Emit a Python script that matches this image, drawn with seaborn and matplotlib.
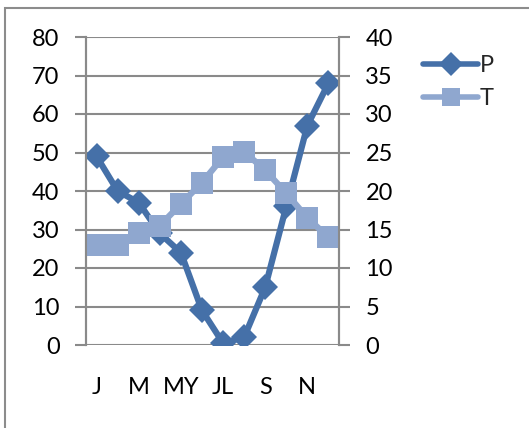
import matplotlib
matplotlib.use("Agg")
import matplotlib.pyplot as plt
import seaborn as sns
import pandas as pd
from matplotlib.patches import Rectangle
from matplotlib.lines import Line2D

sns.set_theme(style="white")
plt.rcParams["font.family"] = ["Lato", "DejaVu Sans"]

months = ["J", "F", "M", "A", "MY", "JN", "JL", "AG", "S", "O", "N", "D"]
tick_labels = ["J", "", "M", "", "MY", "", "JL", "", "S", "", "N", ""]
precip = [49, 40, 37, 29, 24, 9, 0.5, 2, 15, 36, 57, 68]
temp = [13, 13, 14.5, 15.5, 18.3, 21.1, 24.4, 25.1, 22.7, 19.7, 16.5, 14]

df = pd.DataFrame({"month": months, "x": range(len(months)), "P": precip, "T": temp})

P_COLOR = "#4570a8"
T_COLOR = "#8fa7cf"
GRID = "#8a8a8a"
FS = 17

fig = plt.figure(figsize=(5.29, 4.28), dpi=100)
fig.patches.append(Rectangle((5 / 529, -0.1), 1.2, 1 - 8 / 428 + 0.1,
                             transform=fig.transFigure, fill=False,
                             edgecolor="#8c8c8c", linewidth=1.5, zorder=0))

ax = fig.add_axes([86 / 529, 1 - 345 / 428, (339 - 86) / 529, (345 - 37) / 428])
ax2 = ax.twinx()

sns.lineplot(data=df, x="x", y="P", ax=ax, color=P_COLOR, linewidth=4.5,
             marker="D", markersize=13, markeredgewidth=0, legend=False)
sns.lineplot(data=df, x="x", y="T", ax=ax2, color=T_COLOR, linewidth=4.5,
             marker="s", markersize=16, markeredgewidth=0, legend=False)

ax.set_xlim(-0.5, 11.5)
ax.set_ylim(0, 80)
ax2.set_ylim(0, 40)
ax.set_yticks(range(0, 81, 10))
ax2.set_yticks(range(0, 41, 5))
ax.set_xticks(df["x"])
ax.set_xticklabels(tick_labels)

ax.yaxis.grid(True, color=GRID, linewidth=1.5)
ax.set_axisbelow(True)
for a in (ax, ax2):
    a.set_xlabel("")
    a.set_ylabel("")
    for s in ("top", "bottom"):
        a.spines[s].set_visible(False)
    for s in ("left", "right"):
        a.spines[s].set_color(GRID)
        a.spines[s].set_linewidth(1.5)

ax.tick_params(axis="y", which="major", direction="out", length=8, width=1.5,
               color=GRID, labelsize=FS, labelcolor="black", pad=11, left=True)
ax2.tick_params(axis="y", which="major", direction="out", length=8, width=1.5,
                color=GRID, labelsize=FS, labelcolor="black", pad=11, right=True)
ax.tick_params(axis="x", length=0, labelsize=FS, labelcolor="black", pad=23)

handles = [
    Line2D([], [], color=P_COLOR, linewidth=4, marker="D", markersize=12, markeredgewidth=0),
    Line2D([], [], color=T_COLOR, linewidth=4, marker="s", markersize=13, markeredgewidth=0),
]
fig.legend(handles, ["P", "T"], loc="upper left", bbox_to_anchor=(414 / 529, 1 - 46 / 428),
           frameon=False, fontsize=FS, handlelength=2.3, handletextpad=0.1,
           labelspacing=0.5, borderaxespad=0)

fig.savefig("out.png", dpi=100)
